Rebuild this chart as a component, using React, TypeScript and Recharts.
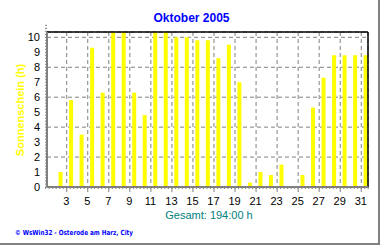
import React from 'react';
import { BarChart, Bar, XAxis, YAxis, CartesianGrid, ReferenceLine } from 'recharts';

const days = [1, 2, 3, 4, 5, 6, 7, 8, 9, 10, 11, 12, 13, 14, 15, 16, 17, 18, 19, 20, 21, 22, 23, 24, 25, 26, 27, 28, 29, 30, 31];
const sunshine = [0.08, 1.0, 5.8, 3.5, 9.3, 6.3, 10.4, 10.4, 6.3, 4.8, 10.4, 10.4, 10.0, 10.0, 9.8, 9.8, 8.6, 9.5, 7.0, 0.3, 1.0, 0.8, 1.5, 0.05, 0.8, 5.3, 7.3, 8.8, 8.8, 8.8, 8.8];
const xTickLabels = [3, 5, 7, 9, 11, 13, 15, 17, 19, 21, 23, 25, 27, 29, 31];
const yTickLabels = [0, 1, 2, 3, 4, 5, 6, 7, 8, 9, 10];

const title = 'Oktober 2005';
const yTitle = 'Sonnenschein (h)';
const totalText = 'Gesamt: 194:00 h';
const footer = '\u00A9 WsWin32  -  Osterode am Harz, City';

const data = days.map((d, i) => ({ day: d, value: sunshine[i] }));

// axis domains (time axis: tick at start of a day, bar at the middle of it)
const yDomain: [number, number] = [0, 10.355];
const tDomain: [number, number] = [1.127, 31.64];
const barDomain: [number, number] = [0.686, 31.2];

const xMinorTicks = days.flatMap((d) => [d, d + 1 / 3, d + 2 / 3]);
const yMinorTicks = yTickLabels.flatMap((v) => [v, v + 0.2, v + 0.4, v + 0.6, v + 0.8]);

const GRAY = '#808080';
const FONT = '"Liberation Sans", Arial, sans-serif';

const isInt = (v: number) => Math.abs(v - Math.round(v)) < 1e-6;

const XTick = (props: any) => {
  const { x, y, payload } = props;
  const v = payload.value;
  if (!isInt(v) || !xTickLabels.includes(Math.round(v))) return <g />;
  return (
    <g>
      <line x1={x} x2={x} y1={y - 2} y2={y + 3} stroke={GRAY} strokeWidth={1} />
      <text x={x - 0.5} y={y + 16} textAnchor="middle" fontFamily={FONT} fontSize={11} fill="#000">
        {Math.round(v)}
      </text>
    </g>
  );
};

const YTick = (props: any) => {
  const { x, y, payload } = props;
  const v = payload.value;
  if (!isInt(v) || !yTickLabels.includes(Math.round(v))) return <g />;
  return (
    <text x={x - 5} y={y + 4} textAnchor="end" fontFamily={FONT} fontSize={11} fill="#000">
      {Math.round(v)}
    </text>
  );
};

export default function App() {
  return (
    <div style={{ position: 'absolute', left: 0, top: 0, width: 380, height: 245, background: '#fff' }}>
      <BarChart
        width={380}
        height={245}
        data={data}
        margin={{ top: 32, right: 12, bottom: 0, left: 0 }}
        barCategoryGap={0}
      >
        <XAxis
          xAxisId="t"
          type="number"
          dataKey="day"
          domain={tDomain}
          allowDataOverflow
          ticks={xMinorTicks}
          interval={0}
          height={58}
          tickSize={2}
          tickMargin={0}
          tickLine={{ stroke: GRAY }}
          axisLine={{ stroke: GRAY, strokeWidth: 2 }}
          tick={XTick}
        />
        <XAxis xAxisId="bar" type="number" dataKey="day" domain={barDomain} allowDataOverflow hide height={0} />
        <XAxis xAxisId="g" type="number" dataKey="day" domain={tDomain} ticks={xTickLabels} allowDataOverflow hide height={0} />
        <YAxis
          yAxisId="main"
          type="number"
          domain={yDomain}
          allowDataOverflow
          ticks={yMinorTicks}
          interval={0}
          width={47}
          tickSize={2}
          tickMargin={0}
          tickLine={{ stroke: GRAY }}
          axisLine={{ stroke: GRAY, strokeWidth: 2 }}
          tick={YTick}
        />
        <YAxis yAxisId="g" type="number" domain={yDomain} ticks={yTickLabels} allowDataOverflow hide width={0} />
        <CartesianGrid xAxisId="g" yAxisId="g" stroke={GRAY} strokeDasharray="4 3" />
        <Bar
          xAxisId="bar"
          yAxisId="main"
          dataKey="value"
          fill="#FFFF00"
          barSize={4}
          isAnimationActive={false}
        />
        <ReferenceLine xAxisId="t" yAxisId="main" y={yDomain[1]} stroke="#000" strokeWidth={1.5} ifOverflow="visible" />
        <ReferenceLine xAxisId="t" yAxisId="main" x={tDomain[1]} stroke="#000" strokeWidth={1.5} ifOverflow="visible" />
      </BarChart>
      <svg
        width={380}
        height={245}
        style={{ position: 'absolute', left: 0, top: 0, pointerEvents: 'none' }}
      >
        <text x={191.5} y={22} textAnchor="middle" fontFamily={FONT} fontWeight="bold" fontSize={12} fill="#0000FF">
          {title}
        </text>
        <text
          transform="translate(24,110) rotate(-90)"
          textAnchor="middle"
          fontFamily={FONT}
          fontWeight="bold"
          fontSize={11}
          fill="#FFFF00"
        >
          {yTitle}
        </text>
        <text x={209} y={219} textAnchor="middle" fontFamily={FONT} fontSize={11} fill="#008080">
          {totalText}
        </text>
        <text
          x={15}
          y={235}
          fontFamily={'"DejaVu Sans", sans-serif'}
          fontWeight="bold"
          fontSize={7}
          fill="#0000FF"
          textLength={118}
          lengthAdjust="spacingAndGlyphs"
        >
          {footer}
        </text>
        <rect x={378} y={0} width={2} height={245} fill={GRAY} />
        <rect x={0} y={243} width={380} height={2} fill={GRAY} />
      </svg>
    </div>
  );
}
